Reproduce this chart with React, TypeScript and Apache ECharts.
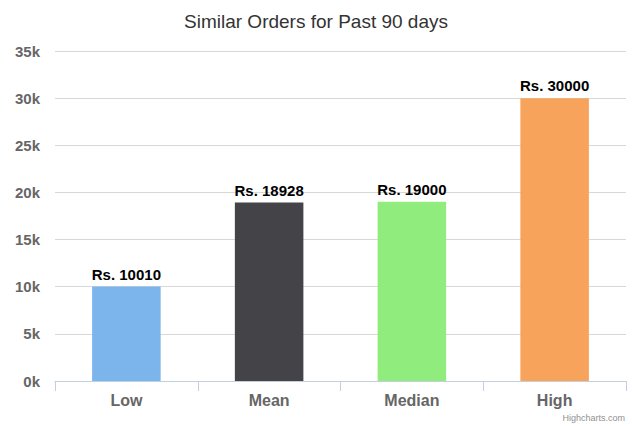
import React, { useEffect, useRef } from "react";
import * as echarts from "echarts";

const categories = ["Low", "Mean", "Median", "High"];
const values = [10010, 18928, 19000, 30000];
const colors = ["#7cb5ec", "#434348", "#90ed7d", "#f7a35c"];

export default function App() {
  const ref = useRef<HTMLDivElement>(null);
  useEffect(() => {
    const chart = echarts.init(ref.current!, null, { renderer: "svg" });
    chart.setOption({
      animation: false,
      title: {
        text: "Similar Orders for Past 90 days",
        left: "center",
        top: 7,
        textStyle: { fontFamily: "Liberation Sans, Arial, sans-serif", fontSize: 19, fontWeight: "normal", color: "#333333" },
      },
      graphic: [
        {
          type: "text",
          x: 625,
          y: 413,
          style: {
            text: "Highcharts.com",
            font: "9px Liberation Sans, Arial, sans-serif",
            fill: "#909090",
            align: "right",
            verticalAlign: "top",
          },
        },
      ],
      grid: { left: 55, right: 6, top: 51, bottom: 45 },
      xAxis: {
        type: "category",
        data: categories,
        axisLine: { lineStyle: { color: "#C0D0E0" } },
        axisTick: { show: true, length: 10, lineStyle: { color: "#C0D0E0" } },
        axisLabel: { margin: 11, fontFamily: "Liberation Sans, Arial, sans-serif", fontSize: 16, fontWeight: "bold", color: "#666666" },
      },
      yAxis: {
        type: "value",
        min: 0,
        max: 35000,
        interval: 5000,
        axisLabel: {
          formatter: (v: number) => v / 1000 + "k",
          fontFamily: "Liberation Sans, Arial, sans-serif",
          fontSize: 15,
          fontWeight: "bold",
          color: "#666666",
          margin: 15,
        },
        splitLine: { lineStyle: { color: "#D8D8D8" } },
        axisLine: { show: false },
        axisTick: { show: false },
      },
      series: [
        {
          type: "bar",
          barWidth: "48%",
          data: values.map((v, i) => ({ value: v, itemStyle: { color: colors[i] } })),
          label: {
            show: true,
            position: "top",
            distance: 5,
            formatter: (p: any) => "Rs. " + p.value,
            fontFamily: "Liberation Sans, Arial, sans-serif",
            fontSize: 15,
            fontWeight: "bold",
            color: "#000000",
          },
        },
      ],
    });
    return () => chart.dispose();
  }, []);
  return <div ref={ref} style={{ position: "absolute", left: 0, top: 0, width: 632, height: 426 }} />;
}
